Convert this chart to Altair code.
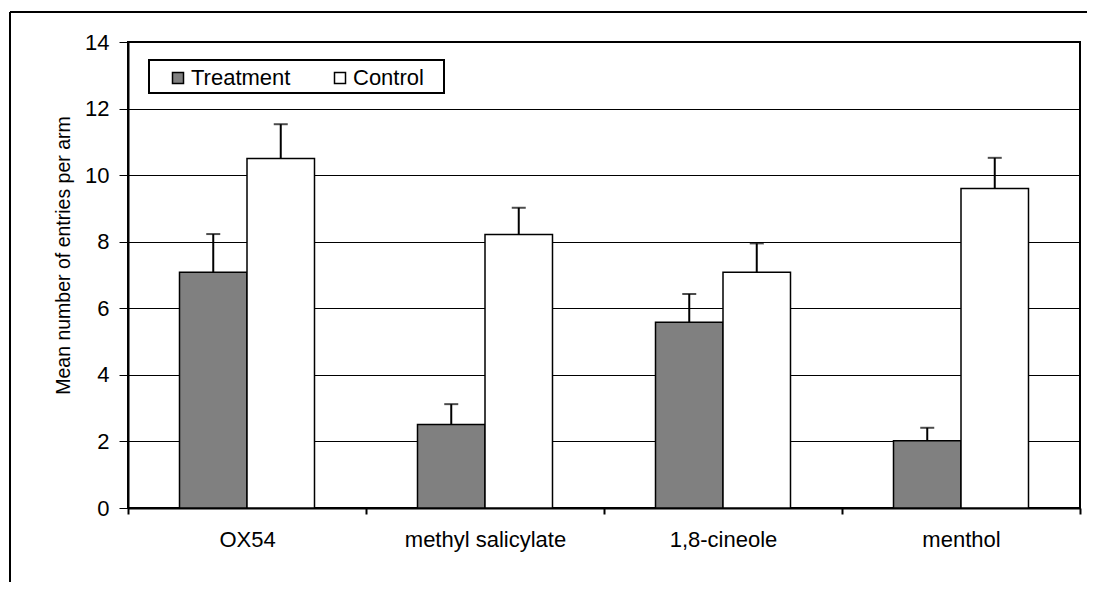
import altair as alt
import pandas as pd

categories = ["OX54", "methyl salicylate", "1,8-cineole", "menthol"]
groups = ["Treatment", "Control"]
treatment_mean = [7.08, 2.51, 5.58, 2.02]
treatment_se = [1.15, 0.61, 0.85, 0.39]
control_mean = [10.5, 8.22, 7.08, 9.6]
control_se = [1.03, 0.80, 0.87, 0.92]
y_ticks = [0, 2, 4, 6, 8, 10, 12, 14]

rows = []
for i, c in enumerate(categories):
    rows.append(dict(substance=c, group="Treatment", mean=treatment_mean[i],
                     upper=treatment_mean[i] + treatment_se[i]))
    rows.append(dict(substance=c, group="Control", mean=control_mean[i],
                     upper=control_mean[i] + control_se[i]))
df = pd.DataFrame(rows)

FONT = "Liberation Sans"

x_axis = alt.Axis(title=None, labelAngle=0, tickBand="extent", tickSize=6, tickWidth=2,
                  tickColor="black", domainColor="black", domainWidth=2,
                  labelFontSize=22, labelFont=FONT, labelColor="black",
                  labelPadding=15, grid=False, labelLimit=400)
x_enc = alt.X("substance:N", sort=categories,
              scale=alt.Scale(paddingInner=0, paddingOuter=0), axis=x_axis)
xo_enc = alt.XOffset("group:N", sort=groups,
                     scale=alt.Scale(paddingInner=0, paddingOuter=0.763))

y_axis = alt.Axis(title="Mean number of entries per arm", values=y_ticks, grid=True,
                  gridColor="black", gridWidth=1, domainColor="black", domainWidth=2,
                  tickColor="black", tickWidth=1, tickSize=9, labelPadding=10,
                  labelFont=FONT, labelFontSize=22, labelColor="black",
                  titleFont=FONT, titleFontSize=19.5, titleFontWeight="normal",
                  titleColor="black", titlePadding=11, titleY=213)
y_scale = alt.Scale(domain=[0, 14], nice=False)

one = alt.Data(values=[{}])
frame_top = alt.Chart(one).mark_rule(color="black", strokeWidth=2).encode(
    x=alt.value(-118), x2=alt.value(959), y=alt.value(-30))
frame_left = alt.Chart(one).mark_rule(color="black", strokeWidth=2).encode(
    x=alt.value(-118), y=alt.value(-30), y2=alt.value(560))

legend_box = alt.Chart(one).mark_rect(
    fill="white", stroke="black", strokeWidth=2
).encode(x=alt.value(21), x2=alt.value(316), y=alt.value(18), y2=alt.value(51))

bars = alt.Chart(df).mark_bar(stroke="black", strokeWidth=1.5).encode(
    x=x_enc, xOffset=xo_enc,
    y=alt.Y("mean:Q", scale=y_scale, axis=y_axis),
    fill=alt.Fill("group:N", sort=groups,
                  scale=alt.Scale(domain=groups, range=["#808080", "#ffffff"]),
                  legend=alt.Legend(title=None, orient="none", legendX=39, legendY=25,
                                    direction="horizontal", symbolType="square",
                                    symbolSize=121, symbolStrokeColor="black",
                                    symbolStrokeWidth=1.5, labelFont=FONT,
                                    labelFontSize=22, labelColor="black",
                                    labelOffset=2, columnPadding=38, padding=0)),
)

rules = alt.Chart(df).mark_rule(color="black", strokeWidth=2).encode(
    x=x_enc, xOffset=xo_enc,
    y=alt.Y("mean:Q", scale=y_scale, axis=y_axis),
    y2="upper:Q",
)

caps = alt.Chart(df).mark_tick(color="black", thickness=2, size=14).encode(
    x=x_enc, xOffset=xo_enc,
    y=alt.Y("upper:Q", scale=y_scale, axis=y_axis),
)

chart = alt.layer(frame_top, frame_left, legend_box, bars, rules, caps).properties(
    width=952, height=466,
    autosize=alt.AutoSizeParams(type="none"),
    padding={"left": 120, "top": 34, "right": 11, "bottom": 74},
    background="white",
).configure_view(stroke="black", strokeWidth=2)

chart.save("out.html", embed_options={"renderer": "svg", "actions": False})
